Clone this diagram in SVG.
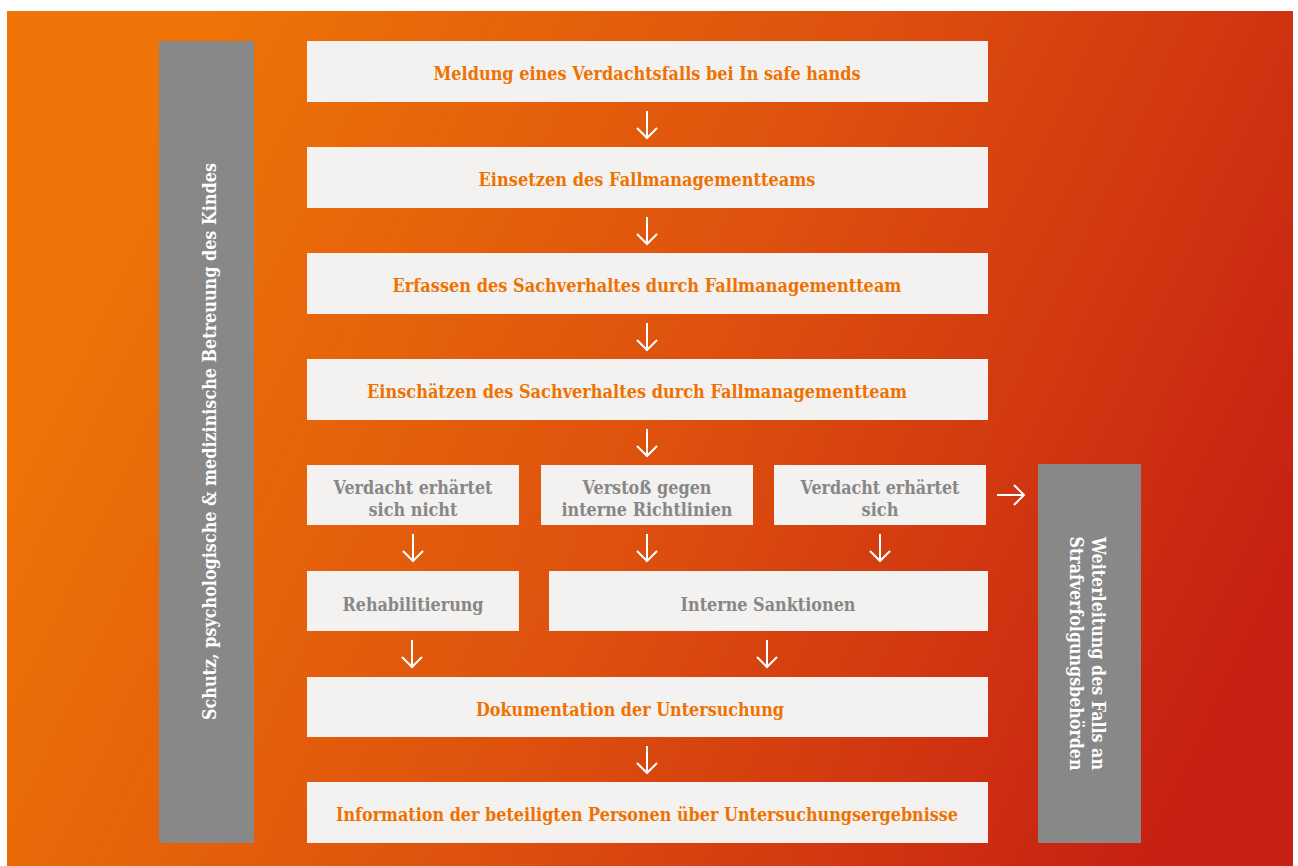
<svg xmlns="http://www.w3.org/2000/svg" width="1298" height="866" viewBox="0 0 1298 866">
  <defs>
    <linearGradient id="bg" gradientUnits="userSpaceOnUse" x1="120" y1="200" x2="1220" y2="720">
      <stop offset="0" stop-color="#EE7407"/>
      <stop offset="0.5" stop-color="#DD500E"/>
      <stop offset="1" stop-color="#C62012"/>
    </linearGradient>
    <style>
      .box { fill: #F3F2F1; }
      .bar { fill: #888888; }
      .t { font-family: "DejaVu Serif", "Liberation Serif", serif; font-weight: bold; font-size: 18px; text-anchor: middle; }
      .o { fill: #EE7203; }
      .g { fill: #878787; }
      .w { fill: #FFFFFF; }
      .arr { fill: none; stroke: #FFFFFF; stroke-width: 2; stroke-linecap: butt; stroke-linejoin: miter; }
    </style>
  </defs>

  <!-- page -->
  <rect x="0" y="0" width="1298" height="866" fill="#FFFFFF"/>
  <rect x="7" y="11" width="1286" height="855" fill="url(#bg)"/>

  <!-- side bar: care of the child -->
  <g id="side-care">
    <rect class="bar" x="159" y="41" width="95" height="802"/>
    <text class="t w" transform="translate(216,441.5) rotate(-90)" textLength="557" lengthAdjust="spacingAndGlyphs">Schutz, psychologische &amp; medizinische Betreuung des Kindes</text>
  </g>

  <!-- side bar: prosecution -->
  <g id="side-prosecution">
    <rect class="bar" x="1038" y="464" width="103" height="379"/>
    <text class="t w" transform="translate(1092,653.5) rotate(90)" textLength="233" lengthAdjust="spacingAndGlyphs">Weiterleitung des Falls an</text>
    <text class="t w" transform="translate(1070,653.5) rotate(90)" textLength="234" lengthAdjust="spacingAndGlyphs">Strafverfolgungsbehörden</text>
  </g>

  <g id="step-meldung">
    <rect class="box" x="307" y="41" width="681" height="61"/>
    <text class="t o" x="647" y="80" textLength="427" lengthAdjust="spacingAndGlyphs">Meldung eines Verdachtsfalls bei In safe hands</text>
  </g>
  <g id="step-einsetzen">
    <rect class="box" x="307" y="147" width="681" height="61"/>
    <text class="t o" x="647" y="186" textLength="337" lengthAdjust="spacingAndGlyphs">Einsetzen des Fallmanagementteams</text>
  </g>
  <g id="step-erfassen">
    <rect class="box" x="307" y="253" width="681" height="61"/>
    <text class="t o" x="647" y="292" textLength="509" lengthAdjust="spacingAndGlyphs">Erfassen des Sachverhaltes durch Fallmanagementteam</text>
  </g>
  <g id="step-einschaetzen">
    <rect class="box" x="307" y="359" width="681" height="61"/>
    <text class="t o" x="637" y="398" textLength="540" lengthAdjust="spacingAndGlyphs">Einschätzen des Sachverhaltes durch Fallmanagementteam</text>
  </g>

  <g id="case-not-confirmed">
    <rect class="box" x="307" y="465" width="212" height="60"/>
    <text class="t g" x="413" y="494" textLength="159" lengthAdjust="spacingAndGlyphs">Verdacht erhärtet</text>
    <text class="t g" x="413" y="516" textLength="89" lengthAdjust="spacingAndGlyphs">sich nicht</text>
  </g>
  <g id="case-violation">
    <rect class="box" x="541" y="465" width="212" height="60"/>
    <text class="t g" x="647" y="494" textLength="129" lengthAdjust="spacingAndGlyphs">Verstoß gegen</text>
    <text class="t g" x="647" y="516" textLength="171" lengthAdjust="spacingAndGlyphs">interne Richtlinien</text>
  </g>
  <g id="case-confirmed">
    <rect class="box" x="774" y="465" width="212" height="60"/>
    <text class="t g" x="880" y="494" textLength="159" lengthAdjust="spacingAndGlyphs">Verdacht erhärtet</text>
    <text class="t g" x="880" y="516" textLength="37" lengthAdjust="spacingAndGlyphs">sich</text>
  </g>

  <g id="rehabilitierung">
    <rect class="box" x="307" y="571" width="212" height="60"/>
    <text class="t g" x="413" y="611" textLength="141" lengthAdjust="spacingAndGlyphs">Rehabilitierung</text>
  </g>
  <g id="sanktionen">
    <rect class="box" x="549" y="571" width="439" height="60"/>
    <text class="t g" x="768" y="611" textLength="175" lengthAdjust="spacingAndGlyphs">Interne Sanktionen</text>
  </g>

  <g id="step-dokumentation">
    <rect class="box" x="307" y="677" width="681" height="60"/>
    <text class="t o" x="630" y="716" textLength="308" lengthAdjust="spacingAndGlyphs">Dokumentation der Untersuchung</text>
  </g>
  <g id="step-information">
    <rect class="box" x="307" y="782" width="681" height="61"/>
    <text class="t o" x="647" y="821" textLength="622" lengthAdjust="spacingAndGlyphs">Information der beteiligten Personen über Untersuchungsergebnisse</text>
  </g>

  <!-- connectors -->
  <g id="connectors" class="arr">
    <path d="M647 111 V138 M637 128 L647 138 L657 128"/>
    <path d="M647 217 V244 M637 234 L647 244 L657 234"/>
    <path d="M647 323 V350 M637 340 L647 350 L657 340"/>
    <path d="M647 429 V456 M637 446 L647 456 L657 446"/>
    <path d="M413 534 V561 M403 551 L413 561 L423 551"/>
    <path d="M647 534 V561 M637 551 L647 561 L657 551"/>
    <path d="M880 534 V561 M870 551 L880 561 L890 551"/>
    <path d="M412 640 V667 M402 657 L412 667 L422 657"/>
    <path d="M767 640 V667 M757 657 L767 667 L777 657"/>
    <path d="M647 746 V773 M637 763 L647 773 L657 763"/>
    <path d="M997 495 H1024 M1014 485 L1024 495 L1014 505"/>
  </g>
</svg>
